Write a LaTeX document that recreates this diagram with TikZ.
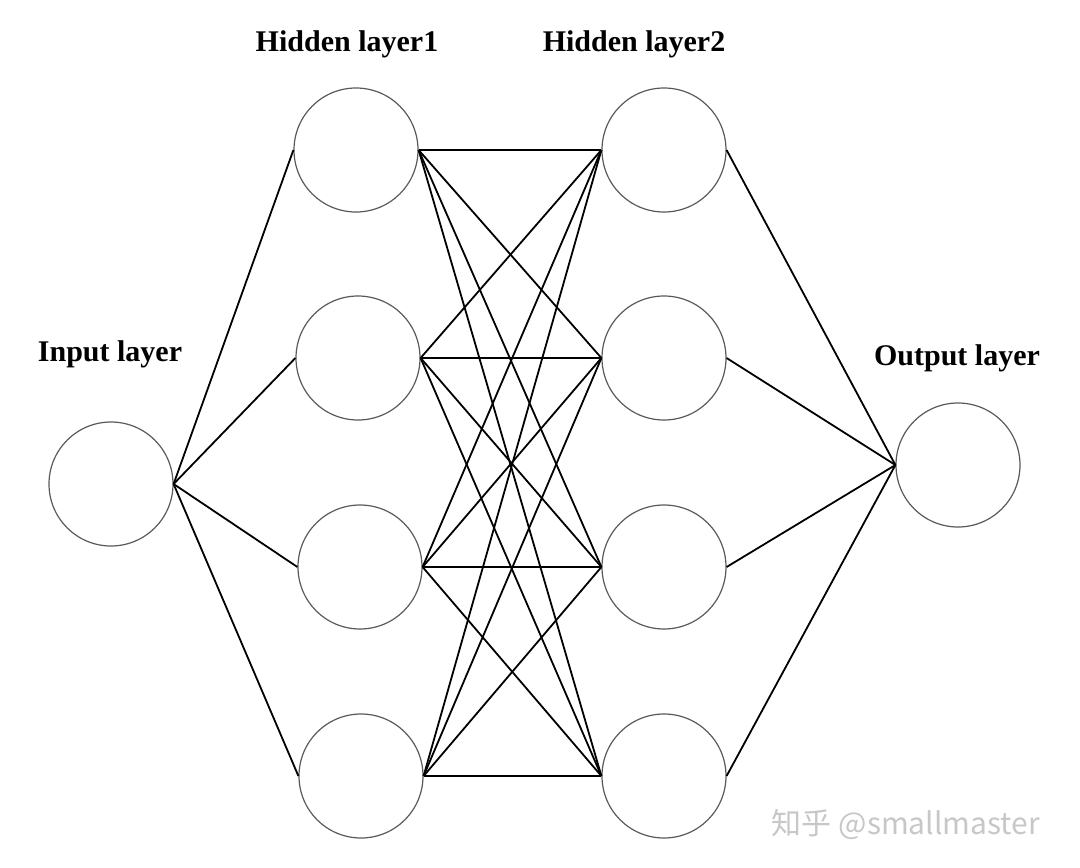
\documentclass[tikz,border=0pt]{standalone}
\usepackage{fontspec}
\setmainfont{Liberation Serif}
\newfontfamily\cjkfont{Noto Sans CJK SC}
\usepackage{xcolor}
\usepackage{tikz}
\usetikzlibrary{positioning}

\begin{document}
\begin{tikzpicture}[
  x=1pt, y=-1pt,
  neuron/.style={draw=black!65, circle, line width=1.2pt, minimum size=124pt, inner sep=0pt},
  lbl/.style={font=\bfseries\fontsize{30}{34}\selectfont, inner sep=0pt},
  wire/.style={line width=1.8pt, black}
]
\useasboundingbox (0,0) rectangle (1080,868);

% input layer
\node[neuron] (in) at (111,484) {};
\node[lbl] (inlbl) at (110,354) {Input layer};

% hidden layer 1
\node[neuron] (ha) at (356,150) {};
\node[neuron] (hb) at (358,358) {};
\node[neuron] (hc) at (360,567) {};
\node[neuron] (hd) at (361,776) {};
\node[lbl] (halbl) at (347,44) {Hidden layer1};

% hidden layer 2
\node[neuron] (ga) at (664,150) {};
\node[neuron] (gb) at (664,358) {};
\node[neuron] (gc) at (664,567) {};
\node[neuron] (gd) at (664,776) {};
\node[lbl] (galbl) at (634,44) {Hidden layer2};

% output layer
\node[neuron] (out) at (958,465) {};
\node[lbl] (outlbl) at (957,358) {Output layer};

\node[font=\cjkfont\fontsize{30}{34}\selectfont, text=black!22, inner sep=0pt] (mark) at (906,824) {知乎 @smallmaster};

\draw[wire] (in.east) -- (ha.west);
\draw[wire] (in.east) -- (hb.west);
\draw[wire] (in.east) -- (hc.west);
\draw[wire] (in.east) -- (hd.west);

\draw[wire] (ha.east) -- (ga.west);
\draw[wire] (ha.east) -- (gb.west);
\draw[wire] (ha.east) -- (gc.west);
\draw[wire] (ha.east) -- (gd.west);
\draw[wire] (hb.east) -- (ga.west);
\draw[wire] (hb.east) -- (gb.west);
\draw[wire] (hb.east) -- (gc.west);
\draw[wire] (hb.east) -- (gd.west);
\draw[wire] (hc.east) -- (ga.west);
\draw[wire] (hc.east) -- (gb.west);
\draw[wire] (hc.east) -- (gc.west);
\draw[wire] (hc.east) -- (gd.west);
\draw[wire] (hd.east) -- (ga.west);
\draw[wire] (hd.east) -- (gb.west);
\draw[wire] (hd.east) -- (gc.west);
\draw[wire] (hd.east) -- (gd.west);

\draw[wire] (ga.east) -- (out.west);
\draw[wire] (gb.east) -- (out.west);
\draw[wire] (gc.east) -- (out.west);
\draw[wire] (gd.east) -- (out.west);
\end{tikzpicture}
\end{document}
